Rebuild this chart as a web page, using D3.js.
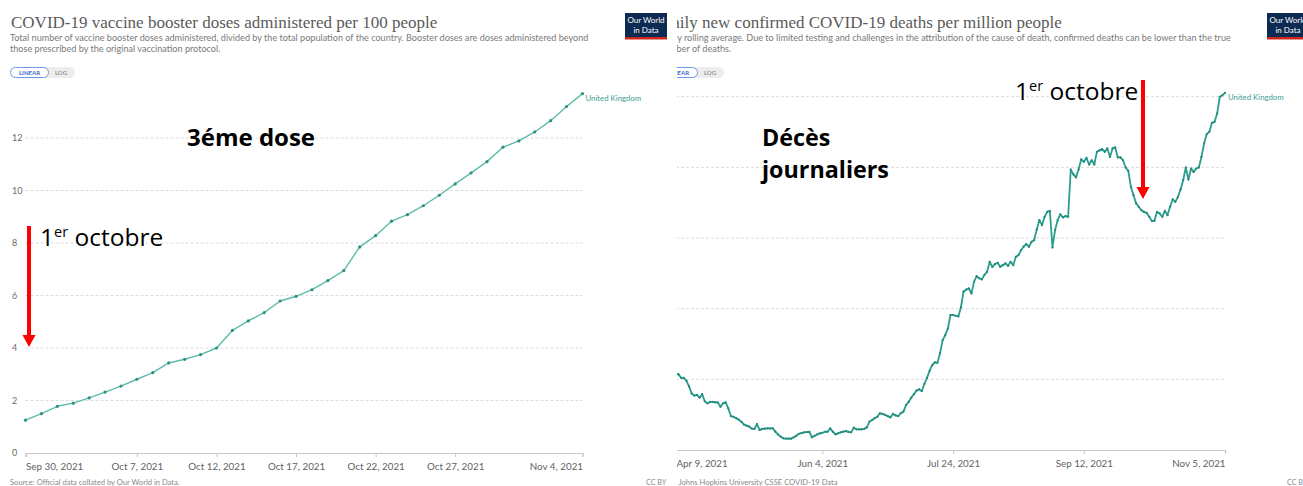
<!DOCTYPE html>
<html>
<head>
<meta charset="utf-8">
<script src="https://cdn.jsdelivr.net/npm/d3@7"></script>
<style>
  body { margin: 0; background: #fff; }
  svg { display: block; }
</style>
</head>
<body>
<div id="chart"></div>
<script>
// Left panel: booster doses per 100 people (United Kingdom), one value per day
const boosterStart = "2021-09-30";
const boosterValues = [
  1.25, 1.50, 1.78, 1.90, 2.10, 2.32, 2.55, 2.81, 3.06, 3.43,
  3.57, 3.75, 4.00, 4.67, 5.03, 5.35, 5.79, 5.97, 6.22, 6.57,
  6.95, 7.85, 8.28, 8.83, 9.08, 9.42, 9.82, 10.25, 10.67, 11.10,
  11.65, 11.89, 12.23, 12.66, 13.20, 13.69
];
const boosterXTicks = ["2021-09-30", "2021-10-07", "2021-10-12", "2021-10-17", "2021-10-22", "2021-10-27", "2021-11-04"];
const boosterYTicks = [0, 2, 4, 6, 8, 10, 12];

// Right panel: daily new confirmed deaths per million (7-day avg), one value per day
const deathsStart = "2021-04-09";
const deathsValues = [
  0.54, 0.535, 0.51, 0.51, 0.49, 0.45, 0.40, 0.385, 0.39, 0.37,
  0.395, 0.345, 0.33, 0.34, 0.34, 0.337, 0.337, 0.306, 0.33, 0.337,
  0.295, 0.24, 0.235, 0.225, 0.215, 0.20, 0.18, 0.172, 0.165, 0.152,
  0.149, 0.184, 0.141, 0.149, 0.151, 0.153, 0.153, 0.153, 0.13, 0.11,
  0.095, 0.083, 0.08, 0.08, 0.08, 0.09, 0.10, 0.115, 0.12, 0.125,
  0.127, 0.129, 0.09, 0.10, 0.11, 0.118, 0.122, 0.129, 0.129, 0.153,
  0.129, 0.111, 0.118, 0.125, 0.13, 0.134, 0.128, 0.125, 0.158, 0.146,
  0.146, 0.146, 0.15, 0.16, 0.2, 0.212, 0.225, 0.235, 0.26, 0.255,
  0.248, 0.24, 0.231, 0.255, 0.245, 0.24, 0.26, 0.271, 0.318, 0.34,
  0.37, 0.395, 0.42, 0.429, 0.417, 0.467, 0.51, 0.56, 0.60, 0.62,
  0.617, 0.684, 0.778, 0.813, 0.86, 0.955, 0.955, 0.95, 0.945, 1.01,
  1.12, 1.135, 1.143, 1.108, 1.19, 1.23, 1.215, 1.207, 1.24, 1.261,
  1.332, 1.296, 1.315, 1.325, 1.296, 1.308, 1.32, 1.303, 1.332, 1.308,
  1.367, 1.379, 1.414, 1.44, 1.457, 1.438, 1.473, 1.485, 1.561, 1.627,
  1.591, 1.65, 1.685, 1.692, 1.433, 1.556, 1.627, 1.667, 1.646, 1.655,
  1.65, 1.985, 1.95, 1.929, 1.985, 2.056, 2.039, 2.067, 2.02, 2.05,
  2.02, 2.11, 2.12, 2.13, 2.11, 2.134, 2.074, 2.134, 2.141, 2.07,
  2.07, 2.05, 1.999, 1.975, 1.862, 1.803, 1.745, 1.721, 1.697, 1.685,
  1.678, 1.65, 1.622, 1.622, 1.685, 1.674, 1.65, 1.692, 1.662, 1.721,
  1.773, 1.756, 1.791, 1.844, 1.909, 1.999, 1.914, 1.992, 1.968, 1.992,
  1.999, 2.074, 2.169, 2.235, 2.251, 2.315, 2.322, 2.381, 2.499, 2.511,
  2.527
];
const deathsXTicks = ["2021-04-09", "2021-06-04", "2021-07-24", "2021-09-12", "2021-11-05"];
const deathsYTicks = [0, 0.5, 1, 1.5, 2, 2.5];

const W = 1303, H = 486;
const parseDate = d3.utcParse("%Y-%m-%d");
const fmtDate = d3.utcFormat("%b %-d, %Y");

const svg = d3.select("#chart").append("svg")
  .attr("width", W)
  .attr("height", H)
  .style("background", "#fff");

class OwidPanel {
  constructor(_svg, _cfg) {
    this.svg = _svg;
    this.cfg = _cfg;
    this.initVis();
  }

  initVis() {
    let vis = this;
    let c = vis.cfg;

    svg.append("clipPath").attr("id", c.id + "-clip")
      .append("rect")
      .attr("x", c.clip[0]).attr("y", 0)
      .attr("width", c.clip[1] - c.clip[0]).attr("height", H);

    vis.g = vis.svg.append("g").attr("clip-path", "url(#" + c.id + "-clip)");

    let start = parseDate(c.start);
    vis.data = c.values.map((v, i) => ({ date: d3.utcDay.offset(start, i), value: v }));

    vis.x = d3.scaleUtc()
      .domain([start, vis.data[vis.data.length - 1].date])
      .range(c.xRange);
    vis.y = d3.scaleLinear()
      .domain([0, c.yTicks[c.yTicks.length - 1]])
      .range(c.yRange);

    vis.drawHeader();
    vis.drawAxes();
    vis.drawLine();
  }

  drawHeader() {
    let vis = this;
    let c = vis.cfg;

    vis.g.append("text")
      .attr("x", c.x0 + 1).attr("y", 28)
      .style("font", "17px 'Liberation Serif', serif")
      .attr("fill", "#5a5a5a")
      .text(c.title);

    vis.g.append("g").selectAll("text")
      .data(c.subtitle)
      .join("text")
      .attr("x", c.x0).attr("y", (d, i) => 41 + i * 11)
      .style("font", "9.1px Lato, sans-serif")
      .attr("fill", "#7a7a7a")
      .text(d => d);

    // LINEAR / LOG toggle
    let b = vis.g.append("g").attr("transform", "translate(" + c.x0 + ",67)");
    b.append("rect").attr("x", 0).attr("y", 0).attr("width", 65).attr("height", 11)
      .attr("rx", 5.5).attr("fill", "#ededed");
    b.append("rect").attr("x", 0.5).attr("y", 0.5).attr("width", 38).attr("height", 10)
      .attr("rx", 5).attr("fill", "#fff").attr("stroke", "#6d9bea");
    b.append("text").attr("x", 19.5).attr("y", 7.8).attr("text-anchor", "middle")
      .style("font", "bold 6px Lato, sans-serif").attr("fill", "#3d6cc9").text("LINEAR");
    b.append("text").attr("x", 51).attr("y", 7.8).attr("text-anchor", "middle")
      .style("font", "6px Lato, sans-serif").attr("fill", "#777").text("LOG");

    // logo
    let l = vis.g.append("g").attr("transform", "translate(" + c.logoX + ",13)");
    l.append("rect").attr("width", 42).attr("height", 24).attr("fill", "#0d2a52");
    l.append("rect").attr("y", 24).attr("width", 42).attr("height", 2.5).attr("fill", "#ce261e");
    l.append("text").attr("x", 21).attr("y", 10).attr("text-anchor", "middle")
      .style("font", "8px Lato, sans-serif").attr("fill", "#fff").text("Our World");
    l.append("text").attr("x", 21).attr("y", 19.5).attr("text-anchor", "middle")
      .style("font", "8px Lato, sans-serif").attr("fill", "#fff").text("in Data");

    // footer
    vis.g.append("text")
      .attr("x", c.sourceX).attr("y", 485)
      .style("font", "7.6px Lato, sans-serif")
      .attr("fill", "#8a8a8a")
      .text(c.source);
    vis.g.append("text")
      .attr("x", c.ccX).attr("y", 485)
      .style("font", "7.2px Lato, sans-serif")
      .attr("fill", "#8a8a8a")
      .text("CC BY");
  }

  drawAxes() {
    let vis = this;
    let c = vis.cfg;
    let [x1, x2] = c.xRange;

    // horizontal grid
    vis.g.append("g").selectAll("line")
      .data(c.yTicks.filter(d => d > 0))
      .join("line")
      .attr("x1", x1).attr("x2", x2)
      .attr("y1", d => vis.y(d)).attr("y2", d => vis.y(d))
      .attr("stroke", "#dcdcdc")
      .attr("stroke-dasharray", "3,2");

    vis.g.append("g").selectAll("text")
      .data(c.yTicks)
      .join("text")
      .attr("x", c.x0 + 2)
      .attr("y", d => vis.y(d) + 3)
      .style("font", "9px Lato, sans-serif")
      .attr("fill", "#6b6b6b")
      .text(d => d);

    // bottom axis
    let ticks = c.xTicks.map(parseDate);
    let xAxis = d3.axisBottom(vis.x)
      .tickValues(ticks)
      .tickSize(4)
      .tickFormat(fmtDate);

    let ax = vis.g.append("g")
      .attr("transform", "translate(0," + vis.y(0) + ")")
      .call(xAxis);
    ax.select(".domain").attr("stroke", "#c8c8c8").attr("stroke-width", 1.2);
    ax.selectAll(".tick line").attr("stroke", "#c8c8c8");
    ax.selectAll(".tick text")
      .attr("dy", "1.05em")
      .style("font", "9.8px Lato, sans-serif")
      .attr("fill", "#5f5f5f")
      .attr("text-anchor", (d, i) => i === 0 ? "start" : (i === ticks.length - 1 ? "end" : "middle"));
  }

  drawLine() {
    let vis = this;
    let c = vis.cfg;

    let line = d3.line()
      .x(d => vis.x(d.date))
      .y(d => vis.y(d.value));

    vis.g.append("path")
      .datum(vis.data)
      .attr("fill", "none")
      .attr("stroke", c.color)
      .attr("stroke-width", c.lineWidth)
      .attr("stroke-linejoin", "round")
      .attr("d", line);

    vis.g.append("g").selectAll("circle")
      .data(vis.data)
      .join("circle")
      .attr("cx", d => vis.x(d.date))
      .attr("cy", d => vis.y(d.value))
      .attr("r", c.dotR)
      .attr("fill", c.dotColor);

    let last = vis.data[vis.data.length - 1];
    vis.g.append("text")
      .attr("x", vis.x(last.date) + 3)
      .attr("y", vis.y(last.value) + 7)
      .style("font", "7.8px Lato, sans-serif")
      .attr("fill", "#3a9e8f")
      .text("United Kingdom");
  }
}

new OwidPanel(svg, {
  id: "booster",
  x0: 10,
  clip: [0, 667],
  title: "COVID-19 vaccine booster doses administered per 100 people",
  subtitle: [
    "Total number of vaccine booster doses administered, divided by the total population of the country. Booster doses are doses administered beyond",
    "those prescribed by the original vaccination protocol."
  ],
  source: "Source: Official data collated by Our World in Data.",
  sourceX: 10,
  ccX: 646,
  logoX: 625,
  start: boosterStart,
  values: boosterValues,
  xTicks: boosterXTicks,
  yTicks: boosterYTicks,
  xRange: [25.5, 582.5],
  yRange: [453, 138],
  color: "#5dbcac",
  lineWidth: 1.4,
  dotR: 1.6,
  dotColor: "#2f8f80"
});

new OwidPanel(svg, {
  id: "deaths",
  x0: 659,
  clip: [677, W],
  title: "Daily new confirmed COVID-19 deaths per million people",
  subtitle: [
    "7-day rolling average. Due to limited testing and challenges in the attribution of the cause of death, confirmed deaths can be lower than the true",
    "number of deaths."
  ],
  source: "Source: Johns Hopkins University CSSE COVID-19 Data",
  sourceX: 652,
  ccX: 1287,
  logoX: 1267,
  start: deathsStart,
  values: deathsValues,
  xTicks: deathsXTicks,
  yTicks: deathsYTicks,
  xRange: [676, 1225],
  yRange: [450, 96.7],
  color: "#2a9d8c",
  lineWidth: 1.8,
  dotR: 1.1,
  dotColor: "#1f8a7a"
});

// Hand-drawn annotations laid over the screenshots
const note = svg.append("g").style("font-family", "'Open Sans', sans-serif").attr("fill", "#000");

function octobre(x, y) {
  let t = note.append("text").attr("x", x).attr("y", y).style("font-size", "24.5px");
  t.append("tspan").text("1");
  t.append("tspan").attr("dy", -9).style("font-size", "14.5px").text("er");
  t.append("tspan").attr("dy", 9).text(" octobre");
}

function redArrow(x, y1, y2) {
  note.append("line")
    .attr("x1", x).attr("x2", x)
    .attr("y1", y1).attr("y2", y2 - 11)
    .attr("stroke", "#ff0000").attr("stroke-width", 4);
  note.append("path")
    .attr("d", d3.line()([[x - 6.5, y2 - 12], [x + 6.5, y2 - 12], [x, y2]]) + "Z")
    .attr("fill", "#ff0000");
}

note.append("text").attr("x", 187).attr("y", 146)
  .style("font-size", "24px").style("font-weight", "bold").text("3éme dose");
octobre(40, 246);
redArrow(29, 226, 347);

note.append("text").attr("x", 762).attr("y", 146)
  .style("font-size", "23.3px").style("font-weight", "bold").text("Décès");
note.append("text").attr("x", 762).attr("y", 178)
  .style("font-size", "23.3px").style("font-weight", "bold").text("journaliers");
octobre(1015, 100);
redArrow(1143, 80, 199);
</script>
</body>
</html>
